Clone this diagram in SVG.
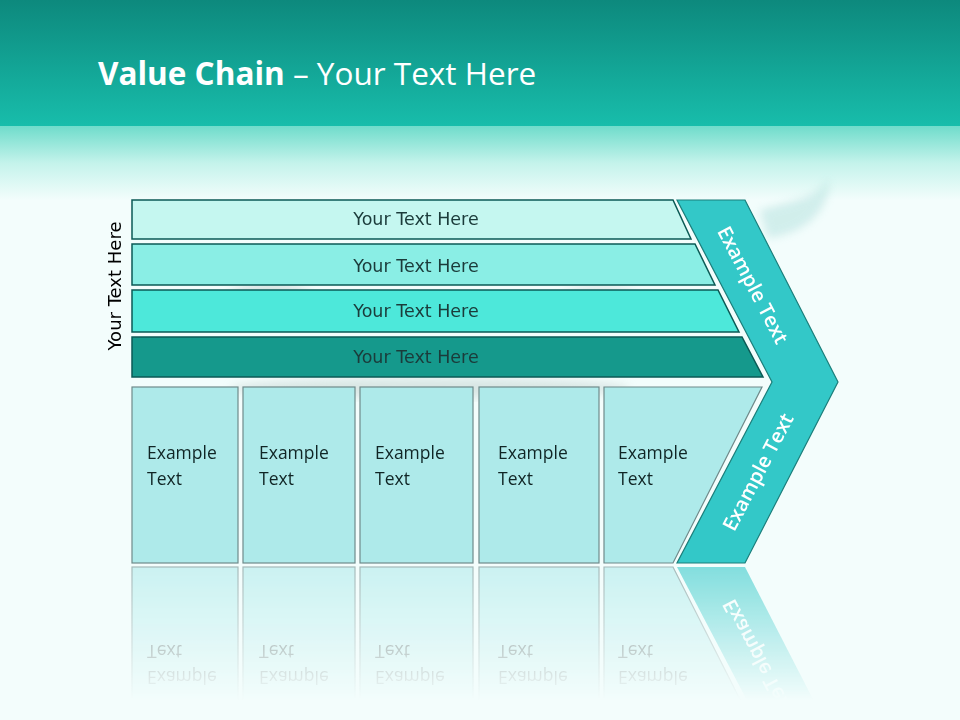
<svg xmlns="http://www.w3.org/2000/svg" width="960" height="720" viewBox="0 0 960 720">
<defs>
<linearGradient id="hdr" x1="0" y1="0" x2="0" y2="1">
<stop offset="0" stop-color="#0d897d"/>
<stop offset="1" stop-color="#18bdab"/>
</linearGradient>
<linearGradient id="fade" x1="0" y1="0" x2="0" y2="1">
<stop offset="0" stop-color="#6fdccb"/>
<stop offset="0.5" stop-color="#c4f3eb"/>
<stop offset="1" stop-color="#f3fdfc"/>
</linearGradient>
<linearGradient id="reflg" x1="0" y1="0" x2="0" y2="1">
<stop offset="0" stop-color="#fff" stop-opacity="0.6"/>
<stop offset="1" stop-color="#fff" stop-opacity="0"/>
</linearGradient>
<mask id="reflm" maskUnits="userSpaceOnUse" x="0" y="564" width="960" height="156">
<rect x="0" y="564" width="960" height="136" fill="url(#reflg)"/>
</mask>
<filter id="blur" x="-20%" y="-20%" width="140%" height="140%"><feGaussianBlur stdDeviation="4"/></filter>
<style>
.bar{stroke:#0b5a55;stroke-width:1.5}
.bt{font-family:"DejaVu Sans",Verdana,sans-serif;font-size:17.5px;fill:#1b3b3a;text-anchor:middle}
.box{fill:#aeeaea;stroke:#6f8a8a;stroke-width:1.2}
.xt{font-family:"Open Sans","Liberation Sans",sans-serif;font-size:17.5px;fill:#102525}
.ct{font-family:"Open Sans","Liberation Sans",sans-serif;font-size:20px;font-weight:600;fill:#ffffff;text-anchor:middle}
</style>
</defs>
<rect x="0" y="0" width="960" height="720" fill="#f3fdfc"/>
<rect x="0" y="0" width="960" height="126" fill="url(#hdr)"/>
<rect x="0" y="126" width="960" height="74" fill="url(#fade)"/>
<text x="98" y="85" font-family="'Open Sans','Liberation Sans',sans-serif" font-size="31.5" fill="#ffffff"><tspan font-weight="700">Value Chain</tspan> – Your Text Here</text>
<g id="bgdeco" opacity="0.5">
<path d="M760,210 C800,200 822,195 828,178 C832,200 815,232 768,238 Z" fill="#9fd8d4" filter="url(#blur)" opacity="0.8"/>
<ellipse cx="270" cy="300" rx="45" ry="16" fill="#b8c8c6" filter="url(#blur)"/>
<ellipse cx="600" cy="300" rx="40" ry="14" fill="#c8d8d6" filter="url(#blur)"/>
<ellipse cx="430" cy="388" rx="200" ry="10" fill="#c0d0ce" filter="url(#blur)"/>
</g>
<g id="bar1"><polygon class="bar" points="132,200 673,200 691,239 132,239" fill="#c5f7f0"/><text class="bt" x="416" y="225">Your Text Here</text></g>
<g id="bar2"><polygon class="bar" points="132,244 695,244 715,285 132,285" fill="#8aeee5"/><text class="bt" x="416" y="272">Your Text Here</text></g>
<g id="bar3"><polygon class="bar" points="132,290 718,290 739,332 132,332" fill="#4de8da"/><text class="bt" x="416" y="317">Your Text Here</text></g>
<g id="bar4"><polygon class="bar" points="132,337 742,337 763,377 132,377" fill="#15998c"/><text class="bt" x="416" y="363">Your Text Here</text></g>
<g id="sidelabel"><text transform="translate(121,286) rotate(-90)" font-family="'DejaVu Sans',Verdana,sans-serif" font-size="18" fill="#000" text-anchor="middle">Your Text Here</text></g>
<g id="boxes">
<g id="box1"><rect class="box" x="132" y="387" width="106" height="176"/><text class="xt" x="147" y="459">Example</text><text class="xt" x="147" y="485">Text</text></g>
<g id="box2"><rect class="box" x="243" y="387" width="112" height="176"/><text class="xt" x="259" y="459">Example</text><text class="xt" x="259" y="485">Text</text></g>
<g id="box3"><rect class="box" x="360" y="387" width="113" height="176"/><text class="xt" x="375" y="459">Example</text><text class="xt" x="375" y="485">Text</text></g>
<g id="box4"><rect class="box" x="479" y="387" width="120" height="176"/><text class="xt" x="498" y="459">Example</text><text class="xt" x="498" y="485">Text</text></g>
<g id="box5"><polygon class="box" points="604,387 762,387 673,563 604,563"/><text class="xt" x="618" y="459">Example</text><text class="xt" x="618" y="485">Text</text></g>
</g>
<g id="chevron"><polygon points="677,200 745,200 838,382 745,563 677,563 772,382" fill="#33c8c8" stroke="#1a7e7a" stroke-width="1.2"/>
<text class="ct" transform="translate(753,285) rotate(62.4)" y="7">Example Text</text>
<text class="ct" transform="translate(758,472) rotate(-62.4)" y="7">Example Text</text>
</g>
<g id="reflection" mask="url(#reflm)">
<g transform="translate(0,1130) scale(1,-1)">
<rect class="box" x="132" y="387" width="106" height="176"/><text class="xt" x="147" y="459">Example</text><text class="xt" x="147" y="485">Text</text>
<rect class="box" x="243" y="387" width="112" height="176"/><text class="xt" x="259" y="459">Example</text><text class="xt" x="259" y="485">Text</text>
<rect class="box" x="360" y="387" width="113" height="176"/><text class="xt" x="375" y="459">Example</text><text class="xt" x="375" y="485">Text</text>
<rect class="box" x="479" y="387" width="120" height="176"/><text class="xt" x="498" y="459">Example</text><text class="xt" x="498" y="485">Text</text>
<polygon class="box" points="604,387 762,387 673,563 604,563"/><text class="xt" x="618" y="459">Example</text><text class="xt" x="618" y="485">Text</text>
<polygon points="838,382 745,563 677,563 772,382" fill="#33c8c8"/>
<text class="ct" transform="translate(758,472) rotate(-62.4)" y="7">Example Text</text>
</g>
</g>
</svg>
